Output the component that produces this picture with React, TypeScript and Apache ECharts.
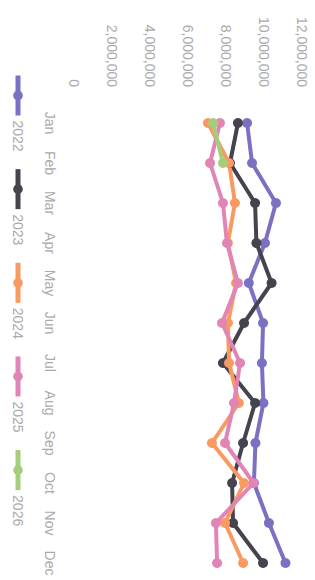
import React, { useEffect, useRef } from "react";
import * as echarts from "echarts";

const months = ["Jan", "Feb", "Mar", "Apr", "May", "Jun", "Jul", "Aug", "Sep", "Oct", "Nov", "Dec"];
const years = ["2022", "2023", "2024", "2025", "2026"];
const colors = ["#7a71c2", "#44434e", "#f99a62", "#e184b6", "#a5ce7a"];

const v2022 = [9110000, 9370000, 10630000, 10050000, 9200000, 9950000, 9890000, 9970000, 9550000, 9470000, 10260000, 11130000];
const v2023 = [8630000, 8210000, 9530000, 9600000, 10400000, 8950000, 7840000, 9530000, 8900000, 8320000, 8370000, 9950000];
const v2024 = [7050000, 8160000, 8470000, 8100000, 8530000, 8100000, 8160000, 8680000, 7260000, 8950000, 7950000, 8900000];
const v2025 = [7680000, 7160000, 7840000, 8050000, 8630000, 7790000, 8740000, 8420000, 7950000, 9450000, 7470000, 7530000];
const v2026 = [7320000, 7840000];

const seriesValues = [v2022, v2023, v2024, v2025, v2026];

export default function App() {
  const ref = useRef<HTMLDivElement>(null);
  useEffect(() => {
    document.body.style.margin = "0";
    if (!ref.current) return;
    const chart = echarts.init(ref.current, null, { renderer: "svg" });
    const textColor = "#aaaaaa";
    chart.setOption({
      animation: false,
      color: colors,
      textStyle: { fontFamily: "sans-serif" },
      legend: {
        left: 68,
        bottom: 6,
        itemWidth: 40,
        itemHeight: 12,
        itemGap: 15,
        lineStyle: { width: 5 },
        textStyle: { color: textColor, fontSize: 14 },
        data: years,
      },
      grid: { left: 123, right: 17, top: 13, bottom: 74 },
      xAxis: {
        type: "category",
        data: months,
        boundaryGap: false,
        axisLine: { show: false },
        axisTick: { show: false },
        splitLine: { show: false },
        axisLabel: { color: textColor, fontSize: 14, margin: 17 },
      },
      yAxis: {
        type: "value",
        min: 0,
        max: 12000000,
        interval: 2000000,
        axisLine: { show: false },
        axisTick: { show: false },
        splitLine: { show: false },
        axisLabel: {
          color: textColor,
          fontSize: 14,
          margin: 36,
          formatter: (v: number) => v.toLocaleString("en-US"),
        },
      },
      series: years.map((y, i) => ({
        name: y,
        type: "line",
        data: seriesValues[i],
        symbol: "circle",
        symbolSize: 10,
        lineStyle: { width: 4 },
        itemStyle: { color: colors[i] },
      })),
    });
    return () => chart.dispose();
  }, []);
  return (
    <div style={{ position: "fixed", left: 0, top: 0, width: 315, height: 580, overflow: "hidden", background: "#fff" }}>
      <div
        ref={ref}
        style={{
          position: "absolute",
          left: 0,
          top: 0,
          width: 580,
          height: 315,
          transformOrigin: "0 0",
          transform: "translateX(315px) rotate(90deg)",
        }}
      />
    </div>
  );
}
